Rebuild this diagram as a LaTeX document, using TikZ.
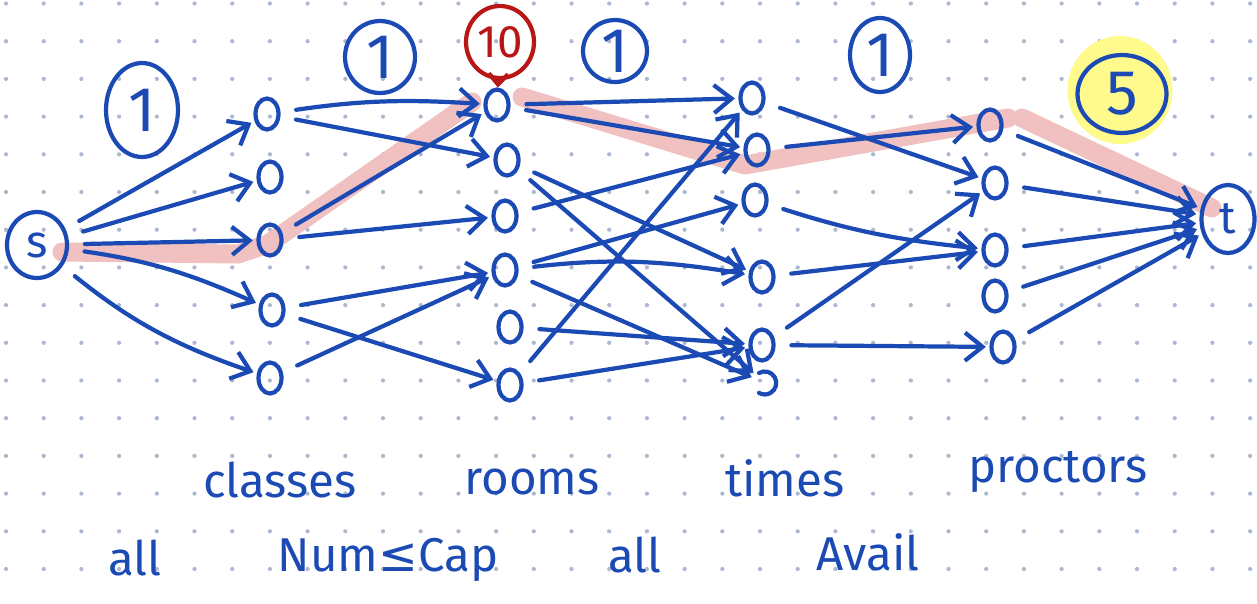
\documentclass[tikz,border=0pt]{standalone}
\usepackage{fontspec}
\setmainfont{Fira Sans}
\newfontfamily\symfont{DejaVu Sans}
\usetikzlibrary{arrows.meta,shapes.geometric,backgrounds}
\definecolor{pen}{RGB}{27,74,180}
\definecolor{hl}{RGB}{241,193,193}
\definecolor{hy}{RGB}{255,250,140}
\definecolor{redpen}{RGB}{185,22,22}
\definecolor{dotc}{RGB}{170,184,208}
\begin{document}
\begin{tikzpicture}[x=0.02cm,y=-0.02cm,
  penline/.style={draw=pen, line width=2.4pt, line cap=round, line join=round},
  vx/.style={ellipse, penline, minimum width=0.46cm, minimum height=0.62cm, inner sep=0pt},
  bigv/.style={ellipse, penline, inner sep=0pt, text=pen, font=\fontsize{26}{26}\selectfont},
  edge/.style={pen, line width=2.4pt, line cap=round, line join=round,
    -{Straight Barb[length=10pt,width=16pt,line width=2.4pt]}, shorten <=9pt, shorten >=2pt},
  lab/.style={text=pen, font=\fontsize{27}{29}\selectfont, inner sep=0pt},
  capn/.style={ellipse, penline, inner sep=0pt, text=pen, font=\fontsize{36}{36}\selectfont},
  hlpath/.style={draw=hl, line width=0.38cm, line cap=round, line join=round}
]
\useasboundingbox (0,0) rectangle (1257,603);
\fill[white] (0,0) rectangle (1257,603);
% dot grid
\foreach \i in {0,...,33}{\foreach \j in {0,...,15}{
  \fill[dotc] (6+37.7*\i, 3.5+37.7*\j) circle[radius=1.2pt];}}
% yellow highlight
\fill[hy] (1120,90) ellipse[x radius=1.05cm, y radius=1.08cm];
% pink highlighted path
\draw[hlpath] (62,252) -- (238,254) -- (268,244) -- (472,102);
\draw[hlpath] (522,97) -- (745,165) -- (1008,118);
\draw[hlpath] (1022,118) -- (1212,208);

% nodes
\node[bigv, minimum width=1.2cm, minimum height=1.32cm] (s) at (37,245) {s};
\node[vx] (c1) at (267,114) {};
\node[vx] (c2) at (270,177) {};
\node[vx] (c3) at (270,240) {};
\node[vx] (c4) at (272,310) {};
\node[vx] (c5) at (270,378) {};
\node[vx] (r1) at (497,105) {};
\node[vx] (r2) at (507,160) {};
\node[vx] (r3) at (505,216) {};
\node[vx] (r4) at (505,270) {};
\node[vx] (r5) at (510,327) {};
\node[vx] (r6) at (510,385) {};
\node[vx] (t1) at (752,98) {};
\node[vx] (t2) at (757,150) {};
\node[vx] (t3) at (755,200) {};
\node[vx] (t4) at (762,277) {};
\node[vx] (t5) at (762,345) {};
\node[vx, draw=none, minimum width=0.34cm, minimum height=0.46cm] (t6) at (765,383) {};
\draw[penline] ([shift={(-0.12cm,0.2cm)}]t6.center) arc[start angle=120, end angle=-120, radius=0.23cm];
\node[vx] (p1) at (990,125) {};
\node[vx] (p2) at (995,183) {};
\node[vx] (p3) at (995,250) {};
\node[vx] (p4) at (995,296) {};
\node[vx] (p5) at (1003,347) {};
\node[bigv, minimum width=1.06cm, minimum height=1.36cm] (t) at (1228,219) {t};

% capacity labels
\node[capn, minimum width=1.44cm, minimum height=1.88cm] (k1) at (142,110) {1};
\node[capn, minimum width=1.4cm, minimum height=1.44cm] (k2) at (380,57) {1};
\node[capn, draw=redpen, text=redpen, font=\fontsize{26}{26}\selectfont,
      minimum width=1.36cm, minimum height=1.44cm] (ten) at (500,42) {10};
\node[capn, minimum width=1.28cm, minimum height=1.24cm] (k3) at (615,51) {1};
\node[capn, minimum width=1.2cm, minimum height=1.48cm] (k4) at (880,55) {1};
\node[capn, minimum width=1.78cm, minimum height=1.56cm] (k5) at (1122,94) {5};
\draw[redpen, line width=2.4pt, line cap=round,
  -{Straight Barb[length=6pt,width=11pt,line width=2.4pt]}] (ten) -- (r1);

% s -> classes
\draw[edge] (s) -- (c1);
\draw[edge] (s) -- (c2);
\draw[edge] (s) -- (c3);
\draw[edge] (s) to[bend left=8] (c4);
\draw[edge] (s) to[bend right=10] (c5);
% classes -> rooms
\draw[edge] (c1) to[bend left=6] (r1);
\draw[edge] (c1) -- (r2);
\draw[edge] (c3) -- (r1);
\draw[edge] (c3) -- (r3);
\draw[edge] (c4) -- (r4);
\draw[edge] (c4) -- (r6);
\draw[edge] (c5) -- (r4);
% rooms -> times
\draw[edge] (r1) -- (t1);
\draw[edge] (r1) -- (t2);
\draw[edge] (r2) -- (t6);
\draw[edge] (r2) -- (t4);
\draw[edge] (r3) -- (t2);
\draw[edge] (r4) -- (t3);
\draw[edge] (r4) to[bend left=8] (t4);
\draw[edge] (r4) -- (t6);
\draw[edge] (r5) -- (t5);
\draw[edge] (r6) -- (t5);
\draw[edge] (r6) -- (t1);
% times -> proctors
\draw[edge] (t1) -- (p2);
\draw[edge] (t2) -- (p1);
\draw[edge] (t3) to[bend right=6] (p3);
\draw[edge] (t4) -- (p3);
\draw[edge] (t5) -- (p2);
\draw[edge] (t5) -- (p5);
% proctors -> t
\draw[edge] (p1) -- (t);
\draw[edge] (p2) -- (t);
\draw[edge] (p3) -- (t);
\draw[edge] (p4) -- (t);
\draw[edge] (p5) -- (t);

% bottom labels
\node[lab] (lc) at (280,480) {classes};
\node[lab] (lr) at (532,482) {rooms};
\node[lab] (lt) at (785,478) {times};
\node[lab] (lp) at (1058,472) {proctors};
\node[lab] (a1) at (135,558) {all};
\node[lab] (a2) at (388,560) {Num{\symfont ≤}Cap};
\node[lab] (a3) at (635,555) {all};
\node[lab] (a4) at (868,552) {Avail};
\end{tikzpicture}
\end{document}
